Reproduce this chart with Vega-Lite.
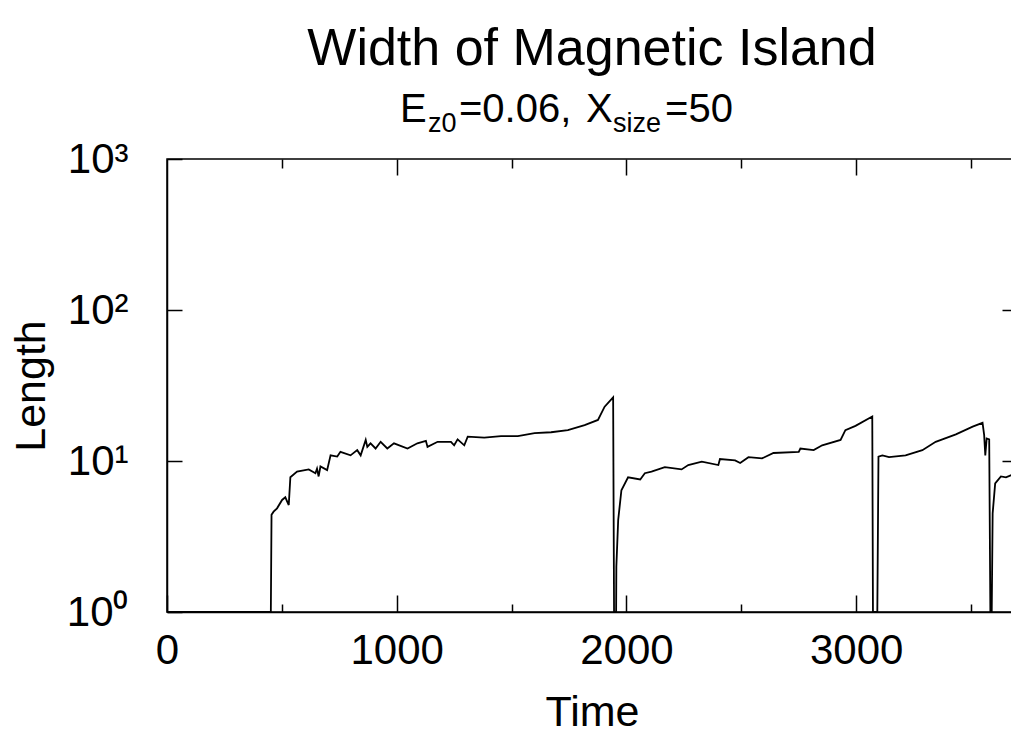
{
  "$schema": "https://vega.github.io/schema/vega-lite/v6.json",
  "width": 850,
  "height": 453,
  "autosize": {"type": "none"},
  "padding": {"left": 167, "top": 159, "right": 0, "bottom": 123},
  "background": "white",
  "config": {"view": {"stroke": "black", "strokeWidth": 1.5}, "font": "Liberation Sans"},
  "title": {"text": "Width of Magnetic Island", "font": "Liberation Sans", "fontSize": 52, "fontWeight": "normal", "color": "black", "anchor": "middle", "frame": "group", "offset": 14},
  "datasets": {
    "series": [
      {"time": 0, "length": 1}, {"time": 452, "length": 1}, {"time": 455, "length": 4.4}, {"time": 464, "length": 4.62}, {"time": 479, "length": 4.86}, {"time": 501, "length": 5.52}, {"time": 515, "length": 5.75}, {"time": 530, "length": 5.11}, {"time": 537, "length": 7.8}, {"time": 566, "length": 8.5}, {"time": 617, "length": 8.8}, {"time": 646, "length": 8.3}, {"time": 653, "length": 8.9}, {"time": 660, "length": 7.9}, {"time": 668, "length": 9.2}, {"time": 697, "length": 8.7}, {"time": 712, "length": 10.9}, {"time": 741, "length": 10.7}, {"time": 755, "length": 11.5}, {"time": 799, "length": 10.9}, {"time": 828, "length": 11.8}, {"time": 843, "length": 10.9}, {"time": 865, "length": 13.8}, {"time": 872, "length": 12.4}, {"time": 886, "length": 13.1}, {"time": 908, "length": 12.1}, {"time": 930, "length": 13.4}, {"time": 959, "length": 12.1}, {"time": 988, "length": 13.1}, {"time": 1047, "length": 12.1}, {"time": 1090, "length": 13.1}, {"time": 1127, "length": 13.6}, {"time": 1134, "length": 12.4}, {"time": 1178, "length": 13.4}, {"time": 1236, "length": 13.4}, {"time": 1250, "length": 12.7}, {"time": 1265, "length": 13.9}, {"time": 1294, "length": 12.7}, {"time": 1309, "length": 14.5}, {"time": 1381, "length": 14.3}, {"time": 1454, "length": 14.6}, {"time": 1527, "length": 14.6}, {"time": 1600, "length": 15.3}, {"time": 1672, "length": 15.5}, {"time": 1745, "length": 16.0}, {"time": 1818, "length": 17.3}, {"time": 1876, "length": 18.7}, {"time": 1905, "length": 22.9}, {"time": 1942, "length": 26.4}, {"time": 1946, "length": 1}, {"time": 1955, "length": 1}, {"time": 1956, "length": 2.0}, {"time": 1964, "length": 4.07}, {"time": 1978, "length": 6.4}, {"time": 2007, "length": 7.8}, {"time": 2060, "length": 7.55}, {"time": 2080, "length": 8.3}, {"time": 2109, "length": 8.5}, {"time": 2167, "length": 9.1}, {"time": 2240, "length": 8.8}, {"time": 2269, "length": 9.4}, {"time": 2328, "length": 9.9}, {"time": 2400, "length": 9.4}, {"time": 2407, "length": 10.3}, {"time": 2473, "length": 10.1}, {"time": 2495, "length": 9.7}, {"time": 2531, "length": 10.6}, {"time": 2590, "length": 10.4}, {"time": 2640, "length": 11.3}, {"time": 2750, "length": 11.5}, {"time": 2757, "length": 12.1}, {"time": 2815, "length": 11.8}, {"time": 2852, "length": 12.7}, {"time": 2932, "length": 13.8}, {"time": 2953, "length": 16.0}, {"time": 2997, "length": 17.1}, {"time": 3070, "length": 19.7}, {"time": 3073, "length": 1}, {"time": 3092, "length": 1}, {"time": 3097, "length": 10.7}, {"time": 3114, "length": 10.9}, {"time": 3143, "length": 10.6}, {"time": 3215, "length": 10.9}, {"time": 3288, "length": 11.8}, {"time": 3346, "length": 13.4}, {"time": 3434, "length": 15.0}, {"time": 3507, "length": 16.9}, {"time": 3550, "length": 17.9}, {"time": 3557, "length": 14.9}, {"time": 3562, "length": 10.9}, {"time": 3568, "length": 14.1}, {"time": 3579, "length": 13.9}, {"time": 3584, "length": 1}, {"time": 3590, "length": 1}, {"time": 3594, "length": 4.5}, {"time": 3605, "length": 7.1}, {"time": 3630, "length": 7.9}, {"time": 3652, "length": 7.8}, {"time": 3686, "length": 8.2}, {"time": 3700, "length": 8.4}
    ]
  },
  "layer": [
    {
      "data": {"name": "series"},
      "mark": {"type": "line", "color": "black", "strokeWidth": 1.8, "clip": true},
      "encoding": {
        "x": {"field": "time", "type": "quantitative", "scale": {"domain": [0, 3700], "nice": false, "zero": false},
          "axis": {"orient": "bottom", "values": [0, 500, 1000, 1500, 2000, 2500, 3000, 3500], "labelExpr": "datum.value % 1000 === 0 ? format(datum.value, 'd') : ''",
            "tickSize": {"condition": {"test": "datum.value % 1000 === 0", "value": -17}, "value": -8},
            "tickColor": "black", "tickWidth": 1.5, "domainColor": "black", "domainWidth": 1.5, "grid": false,
            "labelFontSize": 42, "labelFont": "Liberation Sans", "labelColor": "black", "labelPadding": 35, "labelFlush": false, "labelOverlap": false,
            "title": "Time", "titleFontSize": 43, "titleFont": "Liberation Sans", "titleFontWeight": "normal", "titleColor": "black", "titlePadding": 11}},
        "y": {"field": "length", "type": "quantitative", "scale": {"type": "log", "domain": [1, 1000], "nice": false},
          "axis": {"orient": "left", "values": [1, 10, 100, 1000], "labelExpr": "datum.value == 1 ? '10⁰' : datum.value == 10 ? '10¹' : datum.value == 100 ? '10²' : '10³'",
            "tickSize": -15, "tickColor": "black", "tickWidth": 1.5, "domainColor": "black", "domainWidth": 1.5, "grid": false,
            "labelFontSize": 42, "labelFont": "Liberation Sans", "labelColor": "black", "labelPadding": 54, "labelFlush": false, "labelOverlap": false,
            "title": "Length", "titleFontSize": 43, "titleFont": "Liberation Sans", "titleFontWeight": "normal", "titleColor": "black", "titlePadding": 13}}
      }
    },
    {
      "data": {"name": "series"},
      "mark": {"type": "line", "strokeOpacity": 0},
      "encoding": {
        "x": {"field": "time", "type": "quantitative",
          "axis": {"orient": "top", "values": [500, 1000, 1500, 2000, 2500, 3000, 3500], "labels": false, "domain": false, "grid": false, "title": null,
            "tickSize": {"condition": {"test": "datum.value % 1000 === 0", "value": -16}, "value": -9}, "tickColor": "black", "tickWidth": 1.5}},
        "y": {"field": "length", "type": "quantitative",
          "axis": {"orient": "right", "values": [10, 100], "labels": false, "domain": false, "grid": false, "title": null,
            "tickSize": -15, "tickColor": "black", "tickWidth": 1.5}}
      }
    },
    {
      "data": {"values": [{}]},
      "mark": {"type": "text", "text": "E", "align": "left", "baseline": "alphabetic", "fontSize": 40, "font": "Liberation Sans", "color": "black"},
      "encoding": {"x": {"datum": 1014, "type": "quantitative", "axis": null}, "y": {"datum": 1766, "type": "quantitative", "axis": null}}
    },
    {
      "data": {"values": [{}]},
      "mark": {"type": "text", "text": "z0", "align": "left", "baseline": "alphabetic", "fontSize": 27, "font": "Liberation Sans", "color": "black"},
      "encoding": {"x": {"datum": 1136, "type": "quantitative", "axis": null}, "y": {"datum": 1510, "type": "quantitative", "axis": null}}
    },
    {
      "data": {"values": [{}]},
      "mark": {"type": "text", "text": "=0.06,", "align": "left", "baseline": "alphabetic", "fontSize": 40, "font": "Liberation Sans", "color": "black"},
      "encoding": {"x": {"datum": 1271, "type": "quantitative", "axis": null}, "y": {"datum": 1766, "type": "quantitative", "axis": null}}
    },
    {
      "data": {"values": [{}]},
      "mark": {"type": "text", "text": "X", "align": "left", "baseline": "alphabetic", "fontSize": 40, "font": "Liberation Sans", "color": "black"},
      "encoding": {"x": {"datum": 1824, "type": "quantitative", "axis": null}, "y": {"datum": 1766, "type": "quantitative", "axis": null}}
    },
    {
      "data": {"values": [{}]},
      "mark": {"type": "text", "text": "size", "align": "left", "baseline": "alphabetic", "fontSize": 27, "font": "Liberation Sans", "color": "black"},
      "encoding": {"x": {"datum": 1941, "type": "quantitative", "axis": null}, "y": {"datum": 1510, "type": "quantitative", "axis": null}}
    },
    {
      "data": {"values": [{}]},
      "mark": {"type": "text", "text": "=50", "align": "left", "baseline": "alphabetic", "fontSize": 40, "font": "Liberation Sans", "color": "black"},
      "encoding": {"x": {"datum": 2168, "type": "quantitative", "axis": null}, "y": {"datum": 1766, "type": "quantitative", "axis": null}}
    }
  ],
  "resolve": {"axis": {"x": "independent", "y": "independent"}}
}
